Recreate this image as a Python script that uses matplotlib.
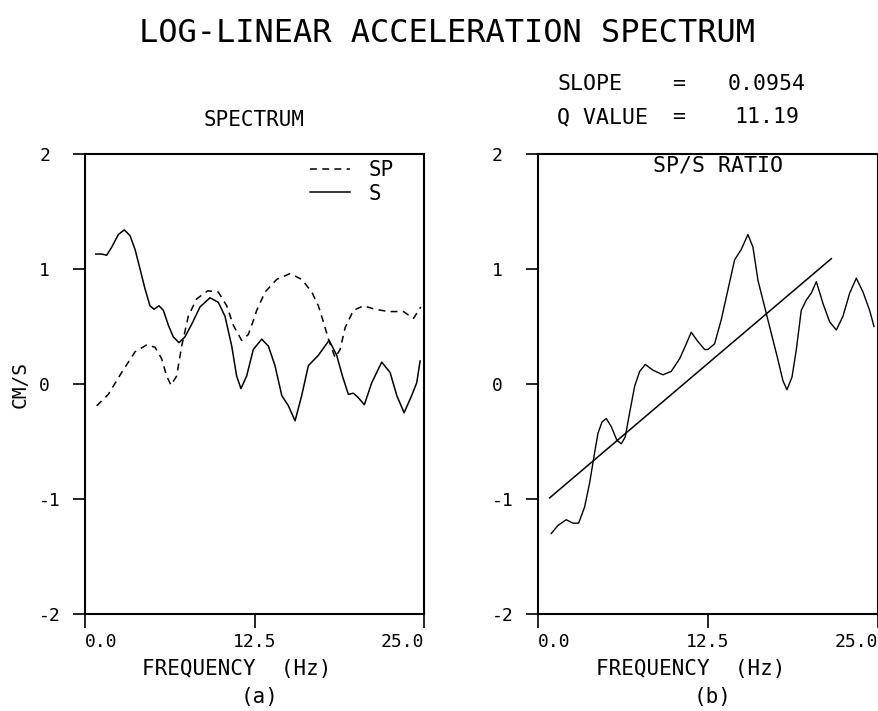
import matplotlib.pyplot as plt

plt.rcParams['font.family'] = ['DejaVu Sans Mono']
plt.rcParams['axes.unicode_minus'] = False

# spectrum panel (a), log10 amplitude
s_freq = [0.79, 1.23, 1.60, 1.97, 2.46, 2.90, 3.32, 3.69, 4.06, 4.42, 4.79, 5.09, 5.46,
          5.78, 6.15, 6.51, 6.93, 7.37, 7.87, 8.48, 9.22, 9.83, 10.32, 10.82, 11.18,
          11.50, 11.92, 12.41, 13.03, 13.52, 14.01, 14.51, 15.0, 15.49, 15.98, 16.47,
          17.21, 18.0, 18.56, 18.98, 19.42, 19.79, 20.16, 20.60, 21.14, 21.88, 22.50,
          22.99, 23.53, 24.09, 24.46, 24.71]
s_vals = [1.13, 1.13, 1.12, 1.19, 1.30, 1.34, 1.29, 1.17, 1.00, 0.83, 0.68, 0.65, 0.68,
          0.64, 0.51, 0.41, 0.36, 0.41, 0.52, 0.67, 0.75, 0.71, 0.59, 0.33, 0.07,
          -0.04, 0.07, 0.30, 0.39, 0.33, 0.16, -0.10, -0.19, -0.32, -0.10, 0.16,
          0.25, 0.38, 0.25, 0.07, -0.09, -0.08, -0.12, -0.18, 0.01, 0.19, 0.10,
          -0.10, -0.25, -0.10, 0.01, 0.20]

sp_freq = [0.86, 1.72, 2.70, 3.69, 4.55, 5.16, 5.65, 6.02, 6.34, 6.76, 7.13, 7.62, 8.23,
           9.05, 9.83, 10.45, 10.94, 11.55, 12.04, 12.41, 12.66, 13.28, 14.14, 15.12,
           15.98, 16.72, 17.21, 17.58, 17.95, 18.44, 18.81, 19.18, 19.79, 20.53, 21.39,
           22.37, 23.48, 24.22, 24.76]
sp_vals = [-0.19, -0.09, 0.10, 0.28, 0.34, 0.32, 0.22, 0.07, -0.01, 0.07, 0.33, 0.59, 0.74,
           0.81, 0.80, 0.68, 0.51, 0.38, 0.43, 0.55, 0.64, 0.80, 0.91, 0.96,
           0.91, 0.80, 0.68, 0.54, 0.39, 0.23, 0.30, 0.49, 0.64, 0.68, 0.65,
           0.63, 0.63, 0.57, 0.67]

# SP/S ratio panel (b)
r_freq = [0.98, 1.47, 2.08, 2.57, 2.99, 3.43, 3.80, 4.12, 4.41, 4.71, 5.02, 5.39, 5.81,
          6.13, 6.42, 6.74, 7.11, 7.48, 7.89, 8.46, 9.19, 9.80, 10.42, 10.91, 11.27,
          11.76, 12.26, 12.5, 12.99, 13.48, 13.97, 14.46, 14.95, 15.44, 15.81, 16.18,
          16.67, 17.16, 17.65, 18.01, 18.31, 18.68, 19.0, 19.36, 19.73, 20.10, 20.47,
          20.96, 21.45, 21.94, 22.43, 22.92, 23.41, 23.90, 24.39, 24.71]
r_vals = [-1.30, -1.23, -1.18, -1.21, -1.21, -1.07, -0.86, -0.63, -0.43, -0.33, -0.30,
          -0.37, -0.49, -0.52, -0.46, -0.25, -0.02, 0.11, 0.17, 0.12, 0.08, 0.11, 0.22,
          0.35, 0.45, 0.37, 0.30, 0.30, 0.35, 0.56, 0.82, 1.08, 1.17, 1.30, 1.19, 0.90,
          0.67, 0.44, 0.21, 0.03, -0.05, 0.06, 0.30, 0.64, 0.73, 0.79, 0.89,
          0.70, 0.54, 0.47, 0.59, 0.79, 0.92, 0.80, 0.64, 0.50]

# least-squares line drawn over the ratio
fit_freq = [0.86, 21.57]
fit_vals = [-0.99, 1.09]

slope = "0.0954"
q_value = "11.19"

xticks = [0.0, 12.5, 25.0]
xticklabels = ["0.0", "12.5", "25.0"]
yticks = [-2, -1, 0, 1, 2]

fig = plt.figure(figsize=(8.79, 7.11), dpi=100)
ax1 = fig.add_axes([0.0967, 0.1364, 0.3857, 0.647])
ax2 = fig.add_axes([0.612, 0.1364, 0.3868, 0.647])

ax1.plot(sp_freq, sp_vals, color='black', lw=1.1, dashes=(4.5, 3.5), label='SP')
ax1.plot(s_freq, s_vals, color='black', lw=1.1, label='S')
ax2.plot(r_freq, r_vals, color='black', lw=1.0)
ax2.plot(fit_freq, fit_vals, color='black', lw=1.1)

for ax, tag in ((ax1, "(a)"), (ax2, "(b)")):
    ax.set_xlim(0, 25)
    ax.set_ylim(-2, 2)
    ax.set_xticks(xticks)
    ax.set_xticklabels(xticklabels)
    ax.set_yticks(yticks)
    ax.tick_params(axis='y', direction='out', length=9, width=1.2, pad=24, labelsize=13)
    ax.tick_params(axis='x', direction='out', length=10, width=1.2, pad=4, labelsize=13)
    for lab in ax.get_yticklabels():
        lab.set_ha('left')
    labs = ax.get_xticklabels()
    labs[0].set_ha('left')
    labs[-1].set_ha('right')
    for sp in ax.spines.values():
        sp.set_linewidth(1.5)
    ax.set_xlabel("FREQUENCY  (Hz)", fontsize=15)
    ax.xaxis.set_label_coords(0.448, -0.12)
    ax.xaxis.label.set_va('center')
    ax.text(0.514, -0.180, tag, transform=ax.transAxes, ha='center', va='center', fontsize=15)

ax1.set_ylabel("CM/S", fontsize=14)
ax1.yaxis.set_label_coords(-0.19, 0.5)
ax1.yaxis.label.set_va('center')

ax1.legend(loc='upper right', bbox_to_anchor=(0.91, 0.986), frameon=False, fontsize=15,
           handlelength=1.9, borderpad=0, borderaxespad=0, labelspacing=0.15,
           handletextpad=0.9)

ax1.set_title("SPECTRUM", fontsize=15, pad=20)
ax2.text(0.529, 0.974, "SP/S RATIO", transform=ax2.transAxes, ha='center', va='center',
         fontsize=15.5)

fig.text(0.509, 0.953, "LOG-LINEAR ACCELERATION SPECTRUM", ha='center', va='center',
         fontsize=23)
fig.text(0.6337, 0.8819, "SLOPE", ha='left', va='center', fontsize=15.5)
fig.text(0.7645, 0.8819, "=", ha='left', va='center', fontsize=15.5)
fig.text(0.8726, 0.8819, slope, ha='center', va='center', fontsize=15.5)
fig.text(0.6337, 0.8354, "Q VALUE", ha='left', va='center', fontsize=15.5)
fig.text(0.7645, 0.8354, "=", ha='left', va='center', fontsize=15.5)
fig.text(0.8726, 0.8354, q_value, ha='center', va='center', fontsize=15.5)

fig.savefig("out.png", dpi=100)
